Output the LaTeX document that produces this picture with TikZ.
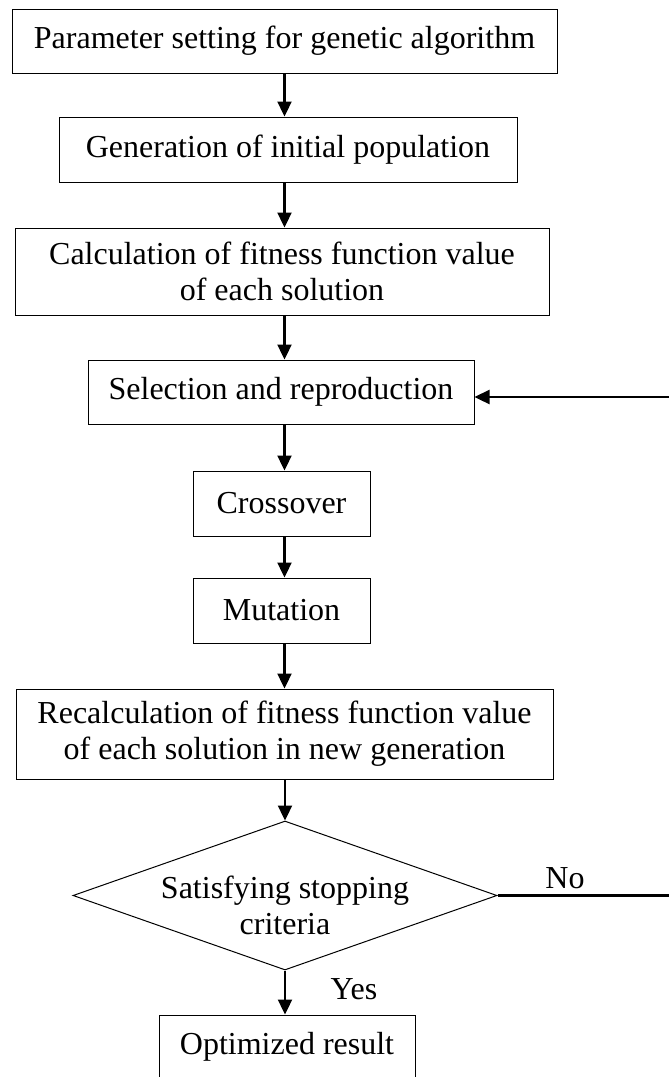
\documentclass[tikz,border=0pt]{standalone}
\usepackage{fontspec}
\setmainfont{Liberation Serif}
\usetikzlibrary{shapes.geometric,arrows.meta}

\begin{document}
\begin{tikzpicture} [x=1pt,y=-1pt,
  box/.style={draw, line width=1pt, align=center, inner sep=0pt, font=\fontsize{32}{36}\selectfont},
  decision/.style={draw, diamond, line width=1pt, inner sep=0pt},
  flow/.style={line width=2.3pt, -{Triangle[length=15pt,width=14pt]}},
  lbl/.style={anchor=base, inner sep=0pt, font=\fontsize{32}{36}\selectfont}]
\useasboundingbox (0,0) rectangle (669,1077);

\node [box, minimum width=545pt, minimum height=64pt] (param) at (284.5,41) {Parameter setting for genetic algorithm};
\node [box, minimum width=458pt, minimum height=65pt] (init) at (288,149.5) {Generation of initial population};
\node [box, minimum width=534pt, minimum height=87pt] (fit) at (282,271.5) {Calculation of fitness function value\\of each solution};
\node [box, minimum width=386pt, minimum height=64pt] (select) at (281,392) {Selection and reproduction};
\node [box, minimum width=177pt, minimum height=65pt] (cross) at (281.5,503.5) {Crossover};
\node [box, minimum width=177pt, minimum height=65pt] (mut) at (281.5,610.5) {Mutation};
\node [box, minimum width=537pt, minimum height=90pt] (refit) at (284.5,734) {Recalculation of fitness function value\\of each solution in new generation};
\node [decision, minimum width=424pt, minimum height=149pt] (stop) at (285,895.5) {};
\node [box, draw=none] (stoptext) at (285,905) {Satisfying stopping\\criteria};
\node [box, minimum width=256pt, minimum height=64pt] (result) at (287,1047) {Optimized result};

\node [lbl] (no) at (565,888) {No};
\node [lbl] (yes) at (354,999) {Yes};

% main flow
\draw [flow] (param.south) -- (param.south |- init.north);
\draw [flow] (param.south |- init.south) -- (param.south |- fit.north);
\draw [flow] (param.south |- fit.south) -- (param.south |- select.north);
\draw [flow] (param.south |- select.south) -- (param.south |- cross.north);
\draw [flow] (param.south |- cross.south) -- (param.south |- mut.north);
\draw [flow] (param.south |- mut.south) -- (param.south |- refit.north);
\draw [flow] (stop.north |- refit.south) -- (stop.north);
\draw [flow] (stop.south) -- (stop.south |- result.north);

% loop back (vertical part lies past the right edge)
\coordinate (back) at (676,895.5);
\draw [flow] (stop.east) -- (back) |- ([yshift=-5pt]select.east);

%\draw [help lines] (0,0) grid (669,1077);
\end{tikzpicture}
\end{document}
